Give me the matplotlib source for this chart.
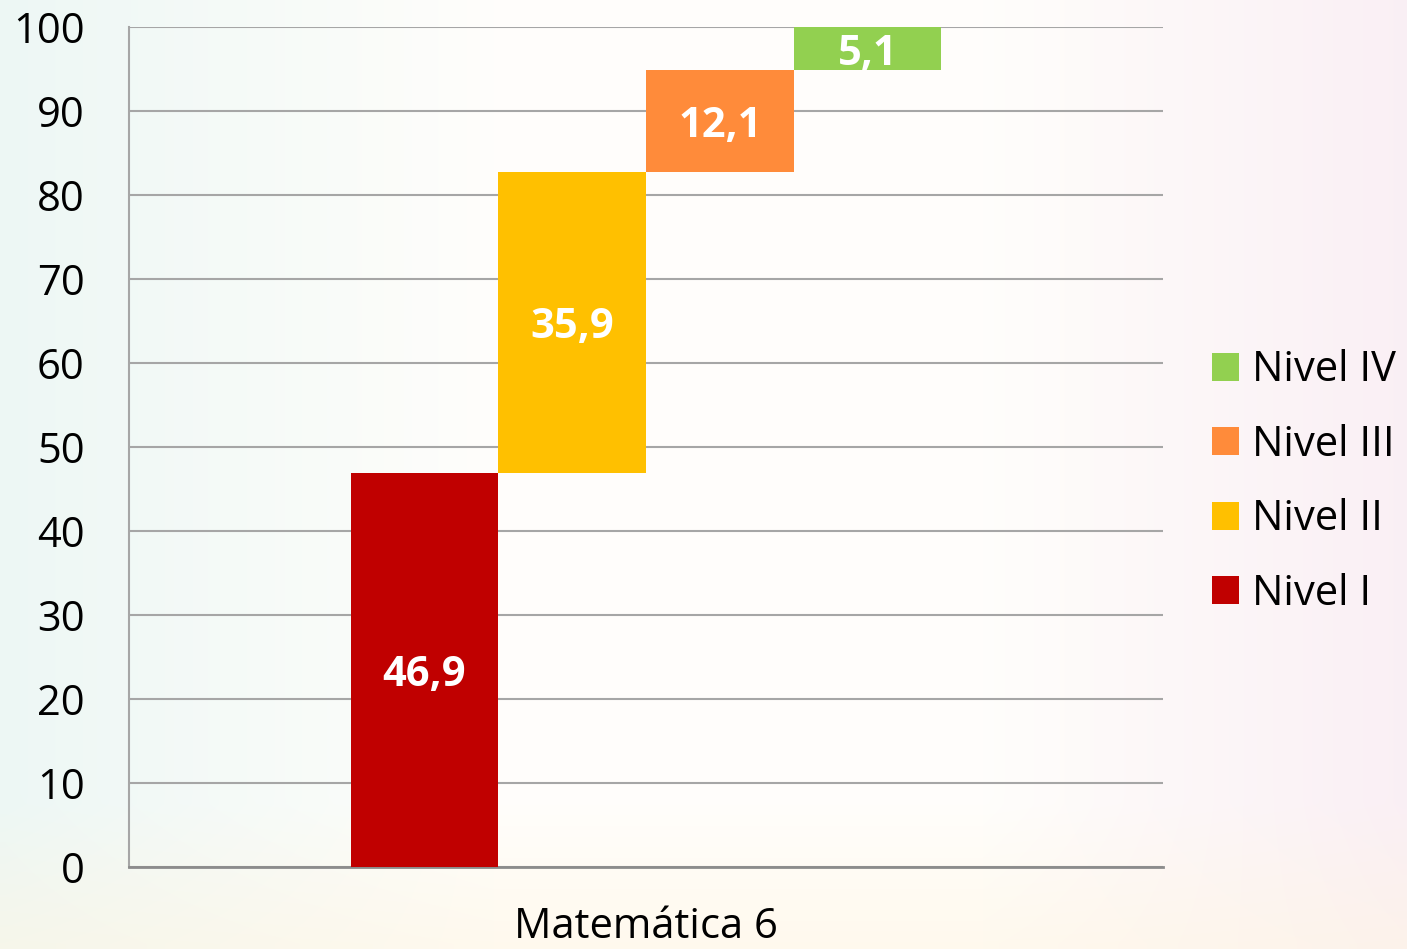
import numpy as np
import matplotlib
matplotlib.use("Agg")
import matplotlib.pyplot as plt
from matplotlib.patches import Patch

# Data
levels = ["Nivel I", "Nivel II", "Nivel III", "Nivel IV"]
values = [46.9, 35.9, 12.1, 5.1]
colors = ["#C00000", "#FFC000", "#FF8B3A", "#92D050"]
category = "Matemática 6"
yticks = [0, 10, 20, 30, 40, 50, 60, 70, 80, 90, 100]

plt.rcParams["font.family"] = ["Open Sans", "DejaVu Sans"]

fig = plt.figure(figsize=(14.07, 9.49), dpi=100)

# Soft pastel slide background
bg = fig.add_axes([0, 0, 1, 1], zorder=-10)
h, w = 95, 141
xx = np.linspace(0, 1, w)[None, :]
yy = np.linspace(0, 1, h)[:, None]
left = np.array([0.93, 0.97, 0.96])
mid = np.array([1.0, 0.995, 0.985])
right = np.array([0.98, 0.94, 0.96])
wl = np.clip(1 - xx / 0.35, 0, 1)[..., None]
wr = np.clip((xx - 0.7) / 0.3, 0, 1)[..., None]
img = mid * (1 - wl - wr) + left * wl + right * wr
img = np.broadcast_to(img, (h, w, 3)).copy()
wb = np.clip((yy - 0.85) / 0.15, 0, 1)[..., None]
img = img * (1 - 0.5 * wb) + np.array([1.0, 0.96, 0.88]) * 0.5 * wb
bg.imshow(img, aspect="auto", extent=[0, 1, 0, 1], interpolation="bilinear")
bg.axis("off")

ax = fig.add_axes([0.0917, 0.0864, 0.7349, 0.8851])
ax.patch.set_alpha(0)

bottoms = np.concatenate([[0], np.cumsum(values)[:-1]])
x = np.arange(len(values))
bars = ax.bar(x, values, bottom=bottoms, width=1.0, color=colors, zorder=3)

# value labels, nudged down a bit to sit like the original
for xi, b, v in zip(x, bottoms, values):
    ax.annotate(f"{v:.1f}".replace(".", ","), (xi, b + v / 2), xytext=(0, -4),
                textcoords="offset points", ha="center", va="center",
                color="white", fontsize=30, fontweight="bold", zorder=4)

ax.set_xlim(-2, 5)
ax.set_ylim(0, 100)
ax.set_yticks(yticks)
ax.set_yticklabels([str(t) for t in yticks], fontsize=30)
ax.set_xticks([1.5])
ax.set_xticklabels([category], fontsize=30)
ax.tick_params(axis="y", length=0, pad=32)
ax.tick_params(axis="x", length=0, pad=28)
ax.yaxis.grid(True, color="#a6a6a6", linewidth=1.5, zorder=0)
ax.set_axisbelow(True)
for s in ["top", "right"]:
    ax.spines[s].set_visible(False)
ax.spines["left"].set_color("#a6a6a6")
ax.spines["left"].set_linewidth(1.5)
ax.spines["bottom"].set_color("#8c8c8c")
ax.spines["bottom"].set_linewidth(2)

handles = [Patch(facecolor=c, label=l) for c, l in zip(colors, levels)][::-1]
fig.legend(handles=handles, loc="center left", bbox_to_anchor=(0.835, 0.492),
           frameon=False, fontsize=30, handlelength=0.65, handleheight=0.65,
           handletextpad=0.31, labelspacing=0.78)

fig.savefig("out.png", dpi=100)
